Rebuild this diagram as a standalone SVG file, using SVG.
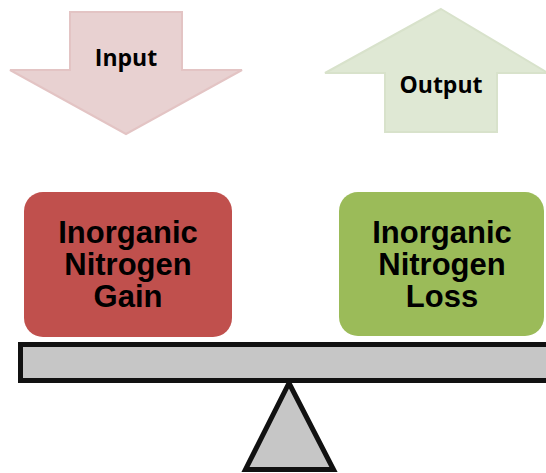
<svg xmlns="http://www.w3.org/2000/svg" width="546" height="473" viewBox="0 0 546 473">
<style>
.arrow-lbl{font-family:"Open Sans","Liberation Sans",sans-serif;font-weight:bold;font-size:23px;fill:#000;text-anchor:middle}
.box-lbl{font-family:"Liberation Sans",Arial,sans-serif;font-weight:bold;font-size:31px;fill:#000;text-anchor:middle}
.scale{fill:#c6c6c6;stroke:#111;stroke-width:5}
</style>
<rect width="546" height="473" fill="#fff"/>
<g id="input">
<polygon points="70,12 182,12 182,70 242,70 126,134 10,70 70,70" fill="#e8d1d1" stroke="#e3c4c4" stroke-width="2"/>
<text class="arrow-lbl" x="126" y="66">Input</text>
</g>
<g id="output">
<polygon points="441,9 548,73 497,73 497,132 385,132 385,73 325,73" fill="#dfe8d4" stroke="#d8e2cb" stroke-width="2"/>
<text class="arrow-lbl" x="441" y="93">Output</text>
</g>
<g id="gain">
<rect x="24" y="192" width="208" height="145" rx="19" fill="#c0504d"/>
<text class="box-lbl" x="128" y="243">Inorganic</text>
<text class="box-lbl" x="128" y="275">Nitrogen</text>
<text class="box-lbl" x="128" y="307">Gain</text>
</g>
<g id="loss">
<rect x="339" y="192" width="205" height="144" rx="19" fill="#9bbb59"/>
<text class="box-lbl" x="442" y="243">Inorganic</text>
<text class="box-lbl" x="442" y="275">Nitrogen</text>
<text class="box-lbl" x="442" y="307">Loss</text>
</g>
<g id="connectors">
<polygon class="scale" points="289,383 245.5,469.5 333.5,469.5" stroke-linejoin="miter"/>
<rect class="scale" x="20.5" y="344.5" width="540" height="36"/>
</g>
</svg>
